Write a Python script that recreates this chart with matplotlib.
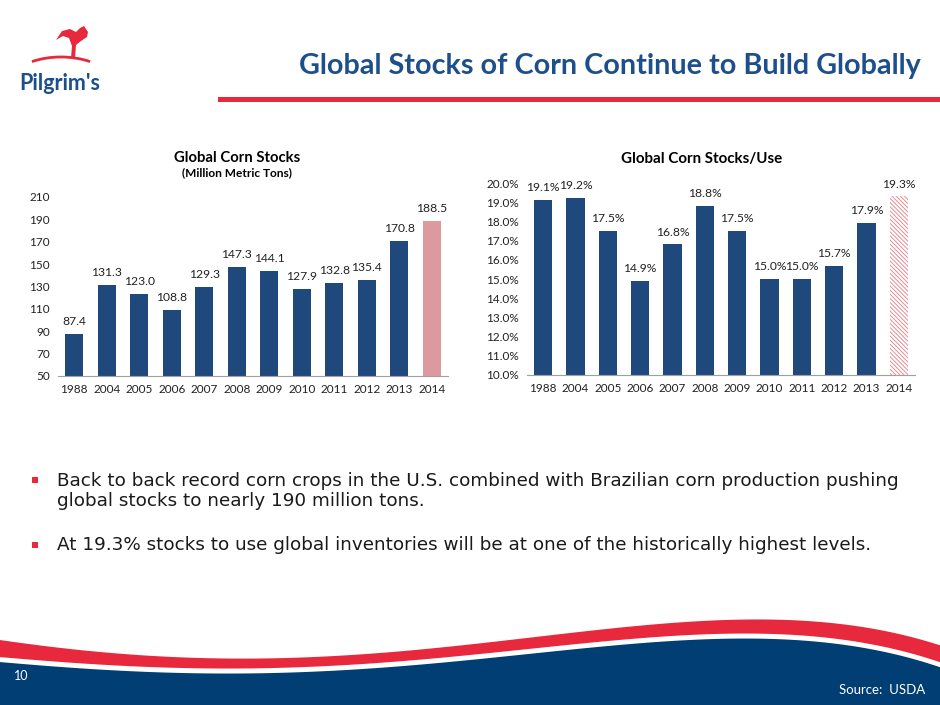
import numpy as np
import matplotlib.pyplot as plt
from matplotlib.patches import Rectangle, Polygon, Arc

# data
years = ['1988', '2004', '2005', '2006', '2007', '2008', '2009', '2010',
         '2011', '2012', '2013', '2014']
stocks = [87.4, 131.3, 123.0, 108.8, 129.3, 147.3, 144.1, 127.9, 132.8,
          135.4, 170.8, 188.5]
stocks_use = [19.1, 19.2, 17.5, 14.9, 16.8, 18.8, 17.5, 15.0, 15.0, 15.7,
              17.9, 19.3]
stock_ticks = [50, 70, 90, 110, 130, 150, 170, 190, 210]
use_ticks = [10, 11, 12, 13, 14, 15, 16, 17, 18, 19, 20]

bullet_lines = [
    "Back to back record corn crops in the U.S. combined with Brazilian corn production pushing",
    "global stocks to nearly 190 million tons.",
    "At 19.3% stocks to use global inventories will be at one of the historically highest levels.",
]

BLUE = '#1F497D'
TITLE_BLUE = '#1D4F8C'
RED = '#E8283C'
NAVY = '#003E73'
PINK = '#DC9A9E'
CAL = ['Lato', 'DejaVu Sans']

plt.rcParams['hatch.linewidth'] = 0.6

fig = plt.figure(figsize=(9.4, 7.05), dpi=100)

# background layer in pixel coordinates
bg = fig.add_axes([0, 0, 1, 1], zorder=0)
bg.set_xlim(0, 940)
bg.set_ylim(705, 0)
bg.axis('off')

# title and red rule
bg.text(921, 66, 'Global Stocks of Corn Continue to Build Globally', ha='right',
        va='center', fontsize=20.7, fontweight='bold', color=TITLE_BLUE, family=CAL)
bg.add_patch(Rectangle((218, 97), 722, 5, color=RED, lw=0))

# logo (rough) - y axis is flipped here, so the dome uses the lower half angles
bg.add_patch(Arc((61, 82), 100, 50, theta1=215, theta2=325, color=RED, lw=2))
bg.add_patch(Polygon([[71, 58], [75, 58], [76, 45], [81, 41], [87, 37], [88, 32],
                      [84, 26], [80, 28], [76, 32], [70, 29], [62, 31], [56, 40],
                      [63, 36], [69, 38], [72, 46]],
                     closed=True, color=RED, lw=0))
bg.text(60, 83, "Pilgrim's", ha='center', va='center', fontsize=15.5,
        fontweight='bold', color=TITLE_BLUE, family=CAL)

# bullets
bg.add_patch(Rectangle((32, 477), 5.5, 5.5, color=RED, lw=0))
bg.add_patch(Rectangle((32, 542), 5.5, 5.5, color=RED, lw=0))
for txt, yy in zip(bullet_lines, [481, 501, 545]):
    bg.text(57, yy, txt, ha='left', va='center', fontsize=13.2, color='#1a1a1a')

# footer waves (decoration)
xs = np.linspace(0, 940, 400)
red_top = np.polyval(np.polyfit([0, 120, 234, 420, 600, 720, 840, 940],
                                [640, 654, 658, 650, 630, 619, 625, 645], 4), xs)
red_bot = np.polyval(np.polyfit([0, 120, 234, 420, 600, 720, 840, 940],
                                [657, 666, 668, 660, 642, 633, 640, 662], 4), xs)
blue_top = red_bot + 5
bg.fill_between(xs, red_top, red_bot, color=RED, lw=0)
bg.fill_between(xs, blue_top, 706, color=NAVY, lw=0)
bg.text(14, 676, '10', ha='left', va='center', fontsize=9, color='white', family=CAL)
bg.text(925, 690, 'Source:  USDA', ha='right', va='center', fontsize=9.5,
        color='white', family=CAL)

x = np.arange(len(years))

# left chart: stocks
ax1 = fig.add_axes([0.0617, 0.4667, 0.415, 0.2539], zorder=1)
cols = [BLUE] * (len(years) - 1) + [PINK]
ax1.bar(x, stocks, width=0.56, color=cols)
ax1.set_ylim(50, 210)
ax1.set_xlim(-0.5, len(years) - 0.5)
ax1.set_yticks(stock_ticks)
ax1.set_xticks(x)
ax1.set_xticklabels(years)
for i, v in enumerate(stocks):
    ax1.annotate(f'{v:.1f}', (i, v), xytext=(0, 5), textcoords='offset points',
                 ha='center', va='bottom', fontsize=8.7, color='#222222', family=CAL)
ax1.text(0.46, 1.215, 'Global Corn Stocks', transform=ax1.transAxes, ha='center',
         va='center', fontsize=10.7, fontweight='bold', color='black', family=CAL)
ax1.text(0.46, 1.135, '(Million Metric Tons)', transform=ax1.transAxes, ha='center',
         va='center', fontsize=8.6, fontweight='bold', color='black', family=CAL)

# right chart: stocks/use
ax2 = fig.add_axes([0.5606, 0.4681, 0.4128, 0.2723], zorder=1)
ax2.bar(x[:-1], stocks_use[:-1], width=0.56, color=BLUE)
ax2.bar(x[-1:], stocks_use[-1:], width=0.56, color='white', edgecolor='#E47C88',
        hatch='\\\\\\\\\\\\\\\\', lw=0)
ax2.set_ylim(10, 20)
ax2.set_xlim(-0.5, len(years) - 0.5)
ax2.set_yticks(use_ticks)
ax2.set_yticklabels([f'{t:.1f}%' for t in use_ticks])
ax2.set_xticks(x)
ax2.set_xticklabels(years)
for i, v in enumerate(stocks_use):
    ax2.annotate(f'{v:.1f}%', (i, v), xytext=(0, 5), textcoords='offset points',
                 ha='center', va='bottom', fontsize=8.7, color='#222222',
                 family=CAL, annotation_clip=False)
ax2.text(0.45, 1.126, 'Global Corn Stocks/Use', transform=ax2.transAxes, ha='center',
         va='center', fontsize=10.9, fontweight='bold', color='black', family=CAL)

for ax in (ax1, ax2):
    for s in ('top', 'right', 'left'):
        ax.spines[s].set_visible(False)
    ax.spines['bottom'].set_color('#A0A0A0')
    ax.tick_params(axis='both', length=0, labelsize=8.5, colors='#222222', pad=6)
    for lab in ax.get_xticklabels() + ax.get_yticklabels():
        lab.set_family(CAL)
    ax.patch.set_alpha(0)

fig.savefig('out.png', dpi=100)
